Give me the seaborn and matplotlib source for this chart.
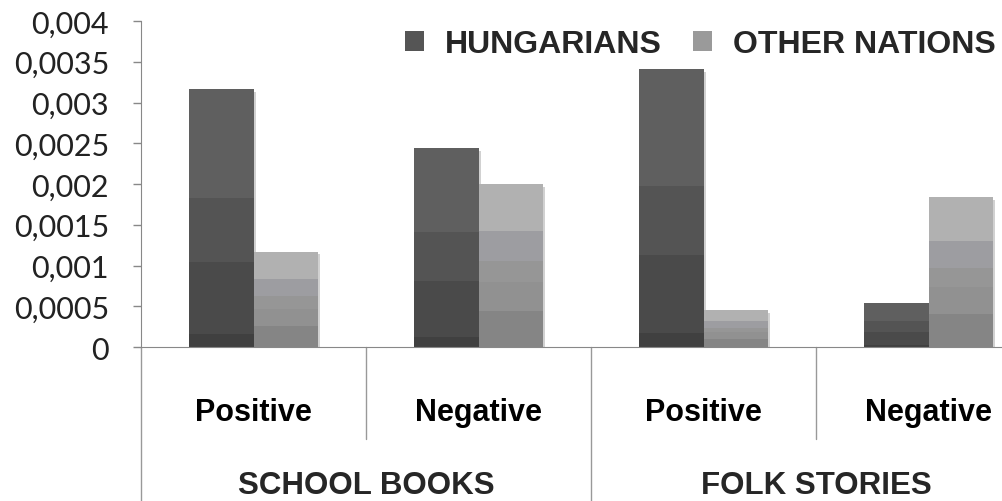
import matplotlib
matplotlib.use("Agg")
import matplotlib.pyplot as plt
import matplotlib.transforms as mtransforms
from matplotlib.patches import Rectangle
from matplotlib.lines import Line2D
import matplotlib.patheffects as pe
import seaborn as sns
import pandas as pd

# ---- data ----
groups = ["SCHOOL BOOKS", "FOLK STORIES"]
sub_labels = ["Positive", "Negative", "Positive", "Negative"]
categories = ["SB Positive", "SB Negative", "FS Positive", "FS Negative"]
series = ["HUNGARIANS", "OTHER NATIONS"]
hungarians = [0.00316, 0.00244, 0.00341, 0.00054]
other_nations = [0.00117, 0.00200, 0.00045, 0.00184]
y_ticks = [0, 0.0005, 0.001, 0.0015, 0.002, 0.0025, 0.003, 0.0035, 0.004]
y_tick_labels = ["0", "0,0005", "0,001", "0,0015", "0,002", "0,0025", "0,003", "0,0035", "0,004"]

df = pd.DataFrame({
    "category": categories * 2,
    "series": [series[0]] * 4 + [series[1]] * 4,
    "value": hungarians + other_nations,
})

W, H = 1002, 502
fig = plt.figure(figsize=(W / 100, H / 100), dpi=100)
fig.patch.set_facecolor("white")
ax = fig.add_axes([141 / W, (H - 348) / H, 900 / W, 326 / H])
sns.set_style("white")

palette = {"HUNGARIANS": "#555555", "OTHER NATIONS": "#9a9a9a"}
sns.barplot(data=df, x="category", y="value", hue="series", order=categories,
            hue_order=series, palette=palette, width=0.57, dodge=True,
            saturation=1, ax=ax, legend=False, edgecolor="none")

# banded "gradient" fill like the original
bands = {
    0: [(0.0, 0.05, "#404040"), (0.05, 0.33, "#4a4a4a"), (0.33, 0.58, "#545454"), (0.58, 1.0, "#5f5f5f")],
    1: [(0.0, 0.22, "#858585"), (0.22, 0.40, "#919191"), (0.40, 0.53, "#969696"),
        (0.53, 0.71, "#9d9da1"), (0.71, 1.0, "#b1b1b1")],
}
patches = list(ax.patches)
n = len(categories)
for i, p in enumerate(patches):
    s = i // n
    x, y0, w, h = p.get_x(), p.get_y(), p.get_width(), p.get_height()
    p.set_path_effects([pe.SimplePatchShadow(offset=(2, -2), shadow_rgbFace="#000000", alpha=0.18),
                        pe.Normal()])
    for f0, f1, c in bands[s]:
        ax.add_patch(Rectangle((x, y0 + f0 * h), w, (f1 - f0) * h, facecolor=c,
                               edgecolor="none", zorder=p.get_zorder() + 0.1))

ax.set_xlim(-0.5, len(categories) - 0.5)
ax.set_ylim(0, 0.004)
ax.set_yticks(y_ticks)
ax.set_yticklabels(y_tick_labels, fontfamily="Lato", fontsize=22, color="#222222")
ax.tick_params(axis="y", length=6, width=1, color="#888888", pad=17)
ax.set_xticks(range(len(categories)))
ax.set_xticklabels(sub_labels, fontfamily="Liberation Sans", fontweight="bold", fontsize=22)
ax.tick_params(axis="x", length=0, pad=36)
ax.set_xlabel("")
ax.set_ylabel("")
for side in ["top", "right"]:
    ax.spines[side].set_visible(False)
ax.spines["left"].set_color("#888888")
ax.spines["bottom"].set_color("#888888")
ax.spines["left"].set_bounds(0, 0.004)

# category separators below axis
trans = mtransforms.blended_transform_factory(ax.transData, fig.transFigure)
y_axis = (H - 348) / H
for xs, ybot in [(-0.5, 0), (0.5, (H - 440) / H), (1.5, 0), (2.5, (H - 440) / H)]:
    ax.add_line(Line2D([xs, xs], [y_axis, ybot], transform=trans, color="#999999",
                       lw=1, clip_on=False))

for gi, g in enumerate(groups):
    ax.text(2 * gi + 0.5, (H - 486) / H, g, transform=trans, ha="center", va="center",
            fontfamily="Liberation Sans", fontweight="bold", fontsize=22.5, clip_on=False)

# legend
handles = [Rectangle((0, 0), 1, 1, facecolor=palette[s], edgecolor="none") for s in series]
leg = fig.legend(handles, series, loc="upper right", bbox_to_anchor=(996 / W, 1 - 30 / H),
                 ncol=2, frameon=False, prop={"family": "Liberation Sans", "weight": "bold", "size": 23},
                 handlelength=0.6, handleheight=0.6, handletextpad=0.65, columnspacing=1.0,
                 borderaxespad=0, borderpad=0)

fig.savefig("out.png", dpi=100, facecolor="white")
